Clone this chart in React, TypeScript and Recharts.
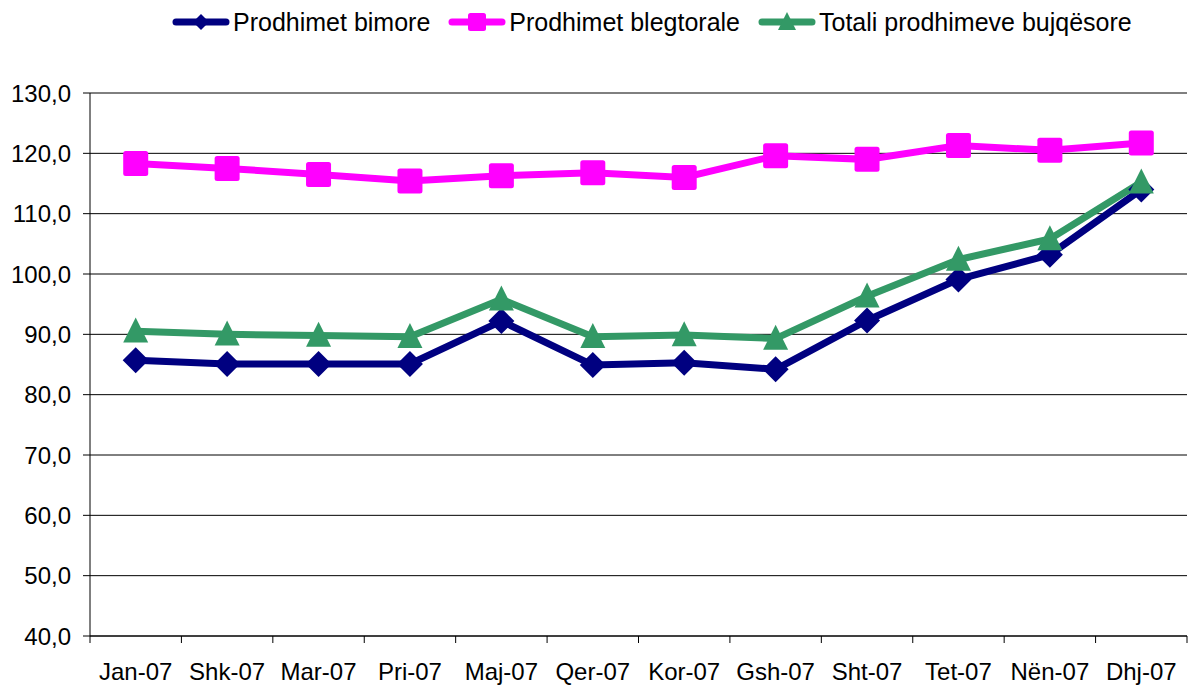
import React from 'react';
import { LineChart, Line, XAxis, YAxis, CartesianGrid } from 'recharts';

const categories = ['Jan-07', 'Shk-07', 'Mar-07', 'Pri-07', 'Maj-07', 'Qer-07', 'Kor-07', 'Gsh-07', 'Sht-07', 'Tet-07', 'Nën-07', 'Dhj-07'];
const bimore = [85.7, 85.1, 85.1, 85.1, 92.2, 84.9, 85.3, 84.2, 92.3, 99.1, 103.2, 114.0];
const blegtorale = [118.3, 117.5, 116.5, 115.4, 116.3, 116.8, 116.0, 119.6, 119.0, 121.3, 120.5, 121.7];
const totali = [90.5, 90.0, 89.8, 89.6, 95.8, 89.6, 89.9, 89.3, 96.3, 102.4, 105.8, 115.2];
const yTicks = [40, 50, 60, 70, 80, 90, 100, 110, 120, 130];
const seriesNames = ['Prodhimet bimore', 'Prodhimet blegtorale', 'Totali prodhimeve bujqësore'];

const data = categories.map((c, i) => ({ cat: c, bimore: bimore[i], blegtorale: blegtorale[i], totali: totali[i] }));

const FONT = '"Liberation Sans", Arial, sans-serif';
const BLUE = '#000080';
const PINK = '#FF00FF';
const GREEN = '#339966';

const W = 1189;
const H = 693;
const PLOT_LEFT = 90;
const PLOT_RIGHT = 1187;
const PLOT_TOP = 93;
const PLOT_BOTTOM = 636;
const BW = (PLOT_RIGHT - PLOT_LEFT) / categories.length;

const Diamond = ({ cx, cy, r, fill }: any) => (
  <path d={`M${cx},${cy - r} L${cx + r},${cy} L${cx},${cy + r} L${cx - r},${cy} Z`} fill={fill} />
);
const Square = ({ cx, cy, r, fill }: any) => (
  <rect x={cx - r} y={cy - r} width={2 * r} height={2 * r} rx={2.5} fill={fill} />
);
const Triangle = ({ cx, cy, r, fill }: any) => (
  <path d={`M${cx},${cy - r * 1.1} L${cx + r},${cy + r * 0.9} L${cx - r},${cy + r * 0.9} Z`} fill={fill} />
);

const dotRenderer = (Shape: any, fill: string, r: number) => (props: any) => {
  const { cx, cy, index } = props;
  if (cx == null || cy == null) return <g key={`d${index}`} />;
  return <Shape key={`d${index}`} cx={cx} cy={cy} r={r} fill={fill} />;
};

const XTick = (props: any) => {
  const { x, y, payload, index } = props;
  return (
    <g>
      {index === 0 && <line x1={x - BW / 2} x2={x - BW / 2} y1={y} y2={y + 7} stroke="#000" strokeWidth={1} />}
      <line x1={x + BW / 2} x2={x + BW / 2} y1={y} y2={y + 7} stroke="#000" strokeWidth={1} />
      <text x={x} y={y + 44} textAnchor="middle" fontSize={24} fontFamily={FONT} fill="#000">
        {payload.value}
      </text>
    </g>
  );
};

const legendItems = [
  { name: seriesNames[0], color: BLUE, Shape: Diamond, r: 8 },
  { name: seriesNames[1], color: PINK, Shape: Square, r: 9 },
  { name: seriesNames[2], color: GREEN, Shape: Triangle, r: 9 },
];

const LegendBlock = () => (
  <div style={{ position: 'absolute', top: 0, left: 0, width: W, display: 'flex', alignItems: 'center', paddingLeft: 172, height: 44, fontFamily: FONT, fontSize: 25, color: '#000', boxSizing: 'border-box' }}>
    {legendItems.map((it, i) => (
      <div key={i} style={{ display: 'flex', alignItems: 'center', marginRight: 18 }}>
        <svg width={58} height={24} style={{ display: 'block' }}>
          <line x1={4} x2={54} y1={12} y2={12} stroke={it.color} strokeWidth={7} strokeLinecap="round" />
          <it.Shape cx={29} cy={12} r={it.r} fill={it.color} />
        </svg>
        <span style={{ marginLeft: 3, whiteSpace: 'nowrap', lineHeight: '24px' }}>{it.name}</span>
      </div>
    ))}
  </div>
);

export default function App() {
  return (
    <div style={{ position: 'absolute', left: 0, top: 0, width: W, height: H, background: '#fff' }}>
      <LineChart width={W} height={H} data={data} margin={{ top: PLOT_TOP, right: W - PLOT_RIGHT, bottom: 0, left: 0 }}>
        <CartesianGrid horizontal vertical={false} stroke="#000" strokeWidth={1} />
        <XAxis
          dataKey="cat"
          height={H - PLOT_BOTTOM}
          padding={{ left: BW / 2, right: BW / 2 }}
          axisLine={{ stroke: '#000', strokeWidth: 1 }}
          tickLine={false}
          tickSize={0}
          tickMargin={0}
          interval={0}
          tick={<XTick />}
        />
        <YAxis
          width={PLOT_LEFT}
          domain={[40, 130]}
          ticks={yTicks}
          interval={0}
          axisLine={{ stroke: '#000', strokeWidth: 1 }}
          tickLine={{ stroke: '#000', strokeWidth: 1 }}
          tickSize={7}
          tickMargin={12}
          tick={{ fontSize: 24, fontFamily: FONT, fill: '#000' }}
          tickFormatter={(v: number) => v.toFixed(1).replace('.', ',')}
        />
        <Line
          type="linear"
          dataKey="bimore"
          name={seriesNames[0]}
          stroke={BLUE}
          strokeWidth={7}
          dot={dotRenderer(Diamond, BLUE, 13)}
          activeDot={false}
          isAnimationActive={false}
        />
        <Line
          type="linear"
          dataKey="blegtorale"
          name={seriesNames[1]}
          stroke={PINK}
          strokeWidth={7}
          dot={dotRenderer(Square, PINK, 12.5)}
          activeDot={false}
          isAnimationActive={false}
        />
        <Line
          type="linear"
          dataKey="totali"
          name={seriesNames[2]}
          stroke={GREEN}
          strokeWidth={7}
          dot={dotRenderer(Triangle, GREEN, 12.5)}
          activeDot={false}
          isAnimationActive={false}
        />
      </LineChart>
      <LegendBlock />
    </div>
  );
}
